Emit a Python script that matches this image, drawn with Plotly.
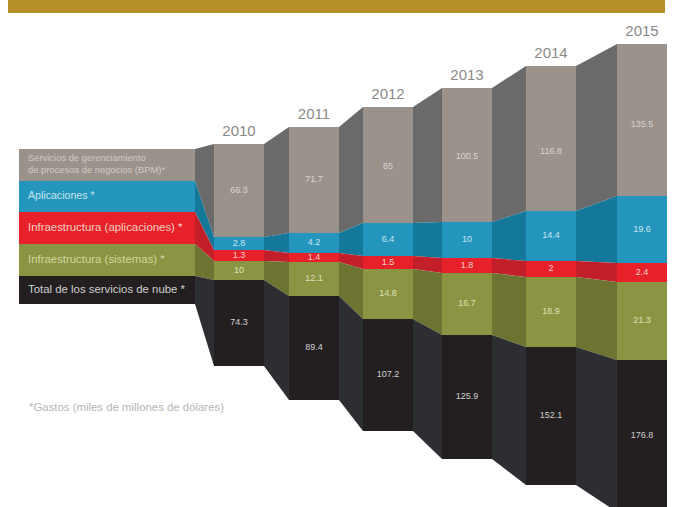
import plotly.graph_objects as go

years = ["2010", "2011", "2012", "2013", "2014", "2015"]
series = [
    "Servicios de gerenciamiento<br>de procesos de negocios (BPM)*",
    "Aplicaciones *",
    "Infraestructura (aplicaciones) *",
    "Infraestructura (sistemas) *",
    "Total de los servicios de nube *",
]

# Printed values
bpm = [66.3, 71.7, 85, 100.5, 116.8, 135.5]
aplicaciones = [2.8, 4.2, 6.4, 10, 14.4, 19.6]
infra_apl = [1.3, 1.4, 1.5, 1.8, 2, 2.4]
infra_sis = [10, 12.1, 14.8, 16.7, 18.9, 21.3]
total = [74.3, 89.4, 107.2, 125.9, 152.1, 176.8]
printed = [bpm, aplicaciones, infra_apl, infra_sis, total]

# The source graphic is not drawn to scale: drawn heights
drawn_bpm = [93, 106, 116, 134, 145, 152]
drawn_apl = [13, 20, 33, 36, 50, 67]
drawn_ia = [11, 9, 13, 15, 16, 19]
drawn_is = [19, 34, 50, 62, 70, 78]
drawn_total = [86, 104, 112, 124, 138, 152]
drawn = [drawn_bpm, drawn_apl, drawn_ia, drawn_is, drawn_total]
drawn_start = [144, 127, 107, 88, 66, 44]

legend_drawn = [32, 31, 32, 32, 28]
legend_start = 149

# Layout and style
bar_x = [239, 314, 388, 467, 551, 642]
bar_w = 50
legend_x0, legend_x1 = 19, 195
front = ["#9c928c", "#2496bd", "#e8202a", "#8a9442", "#231f20"]
side = ["#6b6a6a", "#14789a", "#c21f2b", "#6d7432", "#2c2e32"]
label_col = ["#d8d3cf", "#c8e4ee", "#f8d0c8", "#dfe2b8", "#d0d0d0"]
legend_col = ["#cfcac6", "#c8e4ee", "#f6d0c4", "#d3d7a0", "#cfcfcf"]
legend_size = [9.4, 10.6, 11.4, 11.4, 11.4]
bpm_label_y = [191, 180, 167, 157, 152, 125]
FONT = "Liberation Sans"

# Stack boundaries
edges = [list(drawn_start)]
for h in drawn:
    edges.append([a + b for a, b in zip(edges[-1], h)])
leg_edges = [legend_start]
for h in legend_drawn:
    leg_edges.append(leg_edges[-1] + h)

fig = go.Figure()

# Legend bands
for i, name in enumerate(series):
    fig.add_trace(go.Bar(x=[(legend_x0 + legend_x1) / 2], y=[legend_drawn[i]],
                         base=[leg_edges[i]], width=[legend_x1 - legend_x0],
                         marker=dict(color=front[i], line_width=0), hoverinfo="skip"))

# Connectors
for i in range(5):
    xs = [legend_x1, bar_x[0] - bar_w / 2]
    top = [leg_edges[i], edges[i][0]]
    bot = [leg_edges[i + 1], edges[i + 1][0]]
    fig.add_trace(go.Scatter(x=xs + xs[::-1], y=top + bot[::-1], mode="lines", fill="toself",
                             fillcolor=side[i], line=dict(width=0), hoverinfo="skip"))
    for j in range(5):
        xs = [bar_x[j] + bar_w / 2, bar_x[j + 1] - bar_w / 2]
        top = [edges[i][j], edges[i][j + 1]]
        bot = [edges[i + 1][j], edges[i + 1][j + 1]]
        fig.add_trace(go.Scatter(x=xs + xs[::-1], y=top + bot[::-1], mode="lines", fill="toself",
                                 fillcolor=side[i], line=dict(width=0), hoverinfo="skip"))

# Front bars
for i in range(5):
    fig.add_trace(go.Bar(x=bar_x, y=drawn[i], base=edges[i], width=bar_w,
                         marker=dict(color=front[i], line_width=0), hoverinfo="skip"))

# Value labels
for i in range(5):
    ys = bpm_label_y if i == 0 else [(a + b) / 2 for a, b in zip(edges[i], edges[i + 1])]
    fig.add_trace(go.Scatter(x=bar_x, y=ys, mode="text", text=[str(v) for v in printed[i]],
                             textposition="middle center", hoverinfo="skip",
                             textfont=dict(family=FONT, size=9, color=label_col[i])))

# Year labels
fig.add_trace(go.Scatter(x=bar_x, y=[e - 12 for e in drawn_start], mode="text", text=years,
                         textposition="middle center", hoverinfo="skip",
                         textfont=dict(family=FONT, size=15, color="#8a8a8a")))

# Legend text
fig.add_trace(go.Scatter(x=[28] * 5, y=[(a + b) / 2 for a, b in zip(leg_edges[:-1], leg_edges[1:])],
                         mode="text", text=series, textposition="middle right", hoverinfo="skip",
                         textfont=dict(family=FONT, size=legend_size, color=legend_col)))

fig.add_annotation(x=27, y=407, text="*Gastos (miles de millones de dólares)", showarrow=False,
                   xanchor="left", yanchor="middle",
                   font=dict(family=FONT, size=11.4, color="#b5b5b5"))

# Top band
fig.add_shape(type="rect", x0=8, x1=665, y0=0, y1=13, fillcolor="#b68f26", line_width=0, layer="above")

fig.update_layout(
    width=679, height=507, autosize=False, showlegend=False, barmode="overlay", bargap=0,
    margin=dict(l=0, r=0, t=0, b=0), paper_bgcolor="white", plot_bgcolor="white",
    xaxis=dict(range=[0, 679], visible=False, fixedrange=True),
    yaxis=dict(range=[507, 0], visible=False, fixedrange=True),
)

fig.write_html("out.html", config={"displayModeBar": False},
               post_script="document.body.style.margin='0';")
